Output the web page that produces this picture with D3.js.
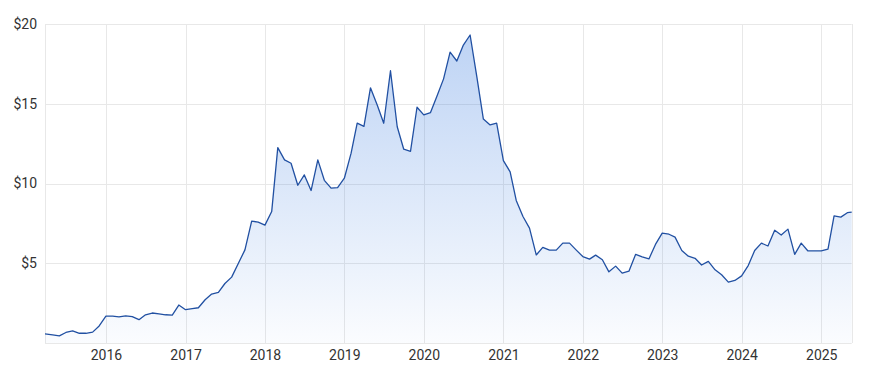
<!DOCTYPE html>
<html>
<head>
<meta charset="utf-8">
<script src="https://cdn.jsdelivr.net/npm/d3@7"></script>
<style>
  html, body { margin: 0; padding: 0; background: #fff; }
  svg { display: block; }
  .tick text { font-family: Roboto, "Noto Sans", sans-serif; font-size: 14px; fill: #333; }
</style>
</head>
<body>
<svg id="chart" width="869" height="375"></svg>
<script>
// monthly closing prices, first value is April 2015
const prices2015 = [0.57, 0.51, 0.45, 0.66, 0.76, 0.61, 0.61, 0.68, 1.07]
const prices2016 = [1.69, 1.68, 1.64, 1.70, 1.65, 1.46, 1.77, 1.88, 1.83, 1.77, 1.75, 2.38]
const prices2017 = [2.09, 2.15, 2.21, 2.71, 3.07, 3.17, 3.73, 4.13, 5.00, 5.84, 7.64, 7.58]
const prices2018 = [7.39, 8.24, 12.25, 11.48, 11.27, 9.89, 10.54, 9.56, 11.48, 10.20, 9.71, 9.74]
const prices2019 = [10.33, 11.90, 13.78, 13.58, 16.00, 14.92, 13.78, 17.07, 13.56, 12.15, 12.02, 14.78]
const prices2020 = [14.30, 14.45, 15.46, 16.56, 18.24, 17.68, 18.68, 19.31, 16.69, 14.04, 13.67, 13.78]
const prices2021 = [11.43, 10.73, 8.94, 7.93, 7.20, 5.52, 6.00, 5.82, 5.82, 6.26, 6.26, 5.84]
const prices2022 = [5.42, 5.26, 5.51, 5.22, 4.46, 4.82, 4.38, 4.50, 5.56, 5.40, 5.27, 6.18]
const prices2023 = [6.89, 6.82, 6.64, 5.80, 5.44, 5.31, 4.89, 5.12, 4.59, 4.28, 3.82, 3.92]
const prices2024 = [4.21, 4.87, 5.80, 6.26, 6.08, 7.07, 6.77, 7.14, 5.56, 6.26, 5.77, 5.77]
const prices2025 = [5.77, 5.88, 7.97, 7.89, 8.17]
const lastPrice = 8.21

const firstDate = new Date(2015, 2, 27)
const monthStart = new Date(2015, 3, 1)
const lastDate = new Date(2025, 4, 21)

const yTicks = [5, 10, 15, 20]
const yearTicks = d3.range(2016, 2026).map(y => new Date(y, 0, 1))

const margin = { top: 24, right: 18, bottom: 32, left: 45 }
const width = 869
const height = 375

const monthly = [].concat(prices2015, prices2016, prices2017, prices2018, prices2019,
  prices2020, prices2021, prices2022, prices2023, prices2024, prices2025)

const data = monthly.map((v, i) => ({ date: d3.timeMonth.offset(monthStart, i), value: v }))
data[0].date = firstDate
data.push({ date: lastDate, value: lastPrice })

const svg = d3.select('#chart')

const x = d3.scaleTime()
  .domain([firstDate, lastDate])
  .range([margin.left, width - margin.right + 0.7])

const y = d3.scaleLinear()
  .domain([0, 20])
  .range([height - margin.bottom, margin.top])

// gradient under the line
const grad = svg.append('defs').append('linearGradient')
  .attr('id', 'fill')
  .attr('gradientUnits', 'userSpaceOnUse')
  .attr('x1', 0).attr('x2', 0)
  .attr('y1', y(20)).attr('y2', y(0))
grad.append('stop').attr('offset', '0%').attr('stop-color', '#256edc').attr('stop-opacity', 0.31)
grad.append('stop').attr('offset', '100%').attr('stop-color', '#256edc').attr('stop-opacity', 0.02)

// grid
const grid = svg.append('g').attr('stroke', '#e8e8e8').attr('stroke-width', 1)

grid.selectAll('.h').data([0].concat(yTicks)).enter()
  .append('line')
    .attr('x1', x.range()[0]).attr('x2', x.range()[1])
    .attr('y1', d => Math.round(y(d)) + 0.5)
    .attr('y2', d => Math.round(y(d)) + 0.5)

grid.selectAll('.v').data([firstDate].concat(yearTicks, [lastDate])).enter()
  .append('line')
    .attr('x1', d => Math.round(x(d)) + 0.5)
    .attr('x2', d => Math.round(x(d)) + 0.5)
    .attr('y1', y(20)).attr('y2', y(0))

svg.append('path')
  .datum(data)
  .attr('fill', 'url(#fill)')
  .attr('d', d3.area().x(d => x(d.date)).y0(y(0)).y1(d => y(d.value)))

svg.append('path')
  .datum(data)
  .attr('fill', 'none')
  .attr('stroke', '#2150a2')
  .attr('stroke-width', 1.3)
  .attr('stroke-linejoin', 'round')
  .attr('d', d3.line().x(d => x(d.date)).y(d => y(d.value)))

// axes (labels only)
svg.append('g')
    .attr('transform', 'translate(' + (margin.left - 5) + ',0)')
    .call(d3.axisLeft(y).tickValues(yTicks).tickSize(0).tickFormat(d => '$' + d))
  .call(g => g.select('.domain').remove())

svg.append('g')
    .attr('transform', 'translate(0,' + (y(0) + 4) + ')')
    .call(d3.axisBottom(x).tickValues(yearTicks).tickSize(0).tickFormat(d3.timeFormat('%Y')))
  .call(g => g.select('.domain').remove())
</script>
</body>
</html>
